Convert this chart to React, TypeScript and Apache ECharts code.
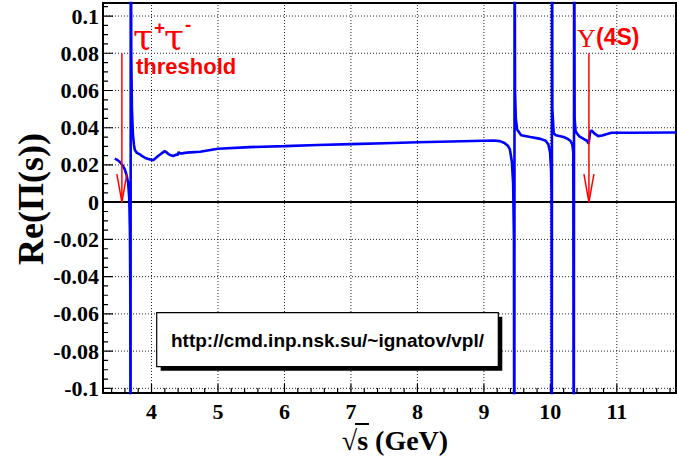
import { useEffect, useRef } from "react";
import * as echarts from "echarts";

// sqrt(s) in GeV and Re(Pi(s))
const sqrtS = [
  3.448, 3.49, 3.523, 3.56, 3.598, 3.625, 3.648, 3.665, 3.675, 3.681, 3.6845,
  3.6875, 3.695, 3.705, 3.719, 3.735, 3.749, 3.78, 3.824, 3.86, 3.899, 3.94, 3.974, 4.0, 4.024,
  4.06, 4.099, 4.15, 4.2, 4.225, 4.25, 4.29, 4.325, 4.35, 4.376, 4.39, 4.41, 4.425, 4.46, 4.5,
  4.526, 4.73, 5.0, 5.478, 6.0, 6.5, 7.0, 7.5, 8.0, 8.5, 9.0, 9.15, 9.24, 9.31, 9.36, 9.39,
  9.42, 9.44, 9.452, 9.458,
  9.462, 9.468, 9.48, 9.5, 9.56, 9.7, 9.85, 9.93, 9.97, 9.995, 10.01, 10.018, 10.021,
  10.025, 10.03, 10.05, 10.08, 10.2, 10.26, 10.3, 10.33, 10.345, 10.352,
  10.358, 10.365, 10.38, 10.43, 10.5, 10.55, 10.575, 10.585, 10.6, 10.62, 10.66, 10.72,
  10.78, 10.84, 10.92, 11.2, 11.89,
];
const rePi = [
  0.0234, 0.0226, 0.0216, 0.02, 0.0176, 0.0145, 0.0105, 0.002, -0.015, -0.05, -0.2,
  0.2, 0.08, 0.05, 0.037, 0.031, 0.028, 0.0265, 0.0257, 0.0247, 0.0239, 0.0233, 0.023, 0.0228, 0.0225,
  0.0236, 0.0248, 0.0262, 0.0274, 0.0268, 0.026, 0.0252, 0.0248, 0.0252, 0.0257, 0.0252, 0.027, 0.0262, 0.0262, 0.0265,
  0.0266, 0.0271, 0.0287, 0.0296, 0.0301, 0.0307, 0.0312, 0.0317, 0.0322, 0.0326, 0.033, 0.0331, 0.0328, 0.0318, 0.0303, 0.0285,
  0.022, 0.01, -0.02, -0.2,
  0.2, 0.06, 0.045, 0.039, 0.036, 0.035, 0.034, 0.033, 0.031, 0.027, 0.018, 0.005, -0.2,
  0.2, 0.05, 0.037, 0.036, 0.035, 0.034, 0.033, 0.031, 0.027, -0.2,
  0.2, 0.045, 0.038, 0.0355, 0.034, 0.033, 0.0315, 0.034, 0.038, 0.0385, 0.037, 0.0355,
  0.0358, 0.0365, 0.0373, 0.0373, 0.0374,
];

// axis ranges and ticks
const xMin = 3.27;
const xMax = 11.89;
const yMin = -0.1025;
const yMax = 0.107;
const xMajorTicks = [4, 5, 6, 7, 8, 9, 10, 11];
const yMajorTicks = [-0.1, -0.08, -0.06, -0.04, -0.02, 0, 0.02, 0.04, 0.06, 0.08, 0.1];
const xMinorTicks: number[] = [];
for (let k = 17; k <= 59; k++) if (k % 5 !== 0) xMinorTicks.push(+(k * 0.2).toFixed(2));
const yMinorTicks: number[] = [];
for (let k = -20; k <= 21; k++) if (k % 4 !== 0) yMinorTicks.push(+(k * 0.005).toFixed(3));

// annotation arrows: position (GeV), from value, to value
const arrowX = [3.554, 10.58];
const arrowFrom = [0.08, 0.08];
const arrowTo = [0, 0];

const RED = "#ff0000";
const SERIF = "Liberation Serif";
const SANS = "Liberation Sans";

// tick lengths expressed in axis units (grid is 573px x 390px)
const xTickMajor = 0.0048; // in y units, ~9px
const xTickMinor = 0.0027; // ~5px
const yTickMajor = 0.15; // in x units, ~10px
const yTickMinor = 0.075; // ~5px

export default function App() {
  const ref = useRef<HTMLDivElement>(null);
  useEffect(() => {
    if (!ref.current) return;
    const chart = echarts.init(ref.current, null, { renderer: "svg" });
    const labelStyle = {
      fontFamily: SERIF,
      fontWeight: "bold" as const,
      fontSize: 22,
      color: "#000",
    };
    // segments separated by empty items
    const gridSegs: any[] = [];
    xMajorTicks.forEach((v) => gridSegs.push([v, yMin], [v, yMax], null));
    yMajorTicks.filter((v) => v !== 0).forEach((v) => gridSegs.push([xMin, v], [xMax, v], null));
    const tickSegs: any[] = [];
    xMajorTicks.forEach((v) => tickSegs.push([v, yMin], [v, yMin + xTickMajor], null));
    xMinorTicks.forEach((v) => tickSegs.push([v, yMin], [v, yMin + xTickMinor], null));
    yMajorTicks.forEach((v) => tickSegs.push([xMin, v], [xMin + yTickMajor, v], null));
    yMinorTicks.forEach((v) => tickSegs.push([xMin, v], [xMin + yTickMinor, v], null));
    chart.setOption({
      animation: false,
      backgroundColor: "#fff",
      grid: {
        left: 103,
        top: 3,
        right: 1,
        bottom: 66,
        show: false,
        containLabel: false,
        outerBoundsMode: "none",
      },
      xAxis: {
        type: "value",
        min: xMin,
        max: xMax,
        position: "bottom",
        axisLine: { show: false },
        axisTick: { show: false },
        splitLine: { show: false },
        axisLabel: {
          ...labelStyle,
          customValues: xMajorTicks,
          margin: 7,
          formatter: (v: number) => String(v),
        },
      },
      yAxis: {
        type: "value",
        min: yMin,
        max: yMax,
        position: "left",
        axisLine: { show: false },
        axisTick: { show: false },
        splitLine: { show: false },
        axisLabel: {
          ...labelStyle,
          customValues: yMajorTicks,
          margin: 4,
          formatter: (v: number) => String(Math.round(v * 100) / 100),
        },
      },
      series: [
        {
          // dotted grid
          type: "line",
          data: gridSegs,
          z: 3,
          silent: true,
          showSymbol: false,
          symbol: "none",
          connectNulls: false,
          clip: false,
          lineStyle: { color: "#222", width: 1, type: [1, 2] },
        },
        {
          // inward ticks
          type: "line",
          data: tickSegs,
          z: 4,
          silent: true,
          showSymbol: false,
          symbol: "none",
          connectNulls: false,
          clip: false,
          lineStyle: { color: "#000", width: 1.2, type: "solid" },
        },
        {
          // plot frame
          type: "custom",
          z: 5,
          silent: true,
          clip: false,
          data: [[xMajorTicks[0], 0]],
          renderItem: (params: any) => {
            const cs = params.coordSys;
            return {
              type: "rect",
              shape: { x: cs.x, y: cs.y, width: cs.width, height: cs.height },
              style: { stroke: "#000", lineWidth: 2, fill: null },
            };
          },
        },
        {
          type: "line",
          data: [],
          z: 6,
          silent: true,
          markLine: {
            silent: true,
            symbol: "none",
            label: { show: false },
            lineStyle: { color: "#000", width: 2, type: "solid" },
            data: [{ yAxis: 0 }],
          },
        },
        {
          type: "line",
          data: sqrtS.map((x, i) => [x, rePi[i]]),
          showSymbol: false,
          symbol: "none",
          clip: true,
          z: 7,
          lineStyle: { color: "#0000ff", width: 2.6 },
        },
        {
          type: "custom",
          z: 8,
          silent: true,
          clip: false,
          data: arrowX.map((x, i) => [x, arrowFrom[i], arrowTo[i]]),
          renderItem: (_params: any, api: any) => {
            const top = api.coord([api.value(0), api.value(1)]);
            const bot = api.coord([api.value(0), api.value(2)]);
            return {
              type: "group",
              children: [
                {
                  type: "line",
                  shape: { x1: top[0], y1: top[1], x2: bot[0], y2: bot[1] },
                  style: { stroke: RED, lineWidth: 1.5 },
                },
                {
                  type: "polyline",
                  shape: {
                    points: [
                      [bot[0] - 5, bot[1] - 28],
                      [bot[0], bot[1]],
                      [bot[0] + 5, bot[1] - 28],
                    ],
                  },
                  style: { stroke: RED, lineWidth: 1.5, fill: "none" },
                },
              ],
            };
          },
        },
      ],
      graphic: [
        // tau+ tau- threshold
        { type: "text", x: 133, y: 36, z: 10, style: { text: "τ", font: `36px 'DejaVu Serif'`, fill: RED, verticalAlign: "middle" } },
        { type: "text", x: 154, y: 27, z: 10, style: { text: "+", font: `bold 19px '${SANS}'`, fill: RED, verticalAlign: "middle" } },
        { type: "text", x: 164, y: 36, z: 10, style: { text: "τ", font: `36px 'DejaVu Serif'`, fill: RED, verticalAlign: "middle" } },
        { type: "text", x: 185, y: 24, z: 10, style: { text: "-", font: `bold 19px '${SANS}'`, fill: RED, verticalAlign: "middle" } },
        { type: "text", x: 136, y: 66.5, z: 10, style: { text: "threshold", font: `bold 22px '${SANS}'`, fill: RED, verticalAlign: "middle" } },
        // Upsilon(4S)
        { type: "text", x: 577, y: 38, z: 10, style: { text: "Υ", font: `26px '${SERIF}'`, fill: RED, verticalAlign: "middle" } },
        { type: "text", x: 596, y: 37, z: 10, style: { text: "(4S)", font: `bold 23px '${SANS}'`, fill: RED, verticalAlign: "middle" } },
        // URL box
        { type: "rect", z: 10, shape: { x: 160.7, y: 316.7, width: 341.6, height: 54 }, style: { fill: "#000" } },
        { type: "rect", z: 11, shape: { x: 156.7, y: 312.7, width: 341.6, height: 54 }, style: { fill: "#fff", stroke: "#000", lineWidth: 1.2 } },
        { type: "text", z: 12, x: 327.5, y: 340, style: { text: "http://cmd.inp.nsk.su/~ignatov/vpl/", font: `bold 19px '${SANS}'`, fill: "#000", align: "center", verticalAlign: "middle" } },
        // axis titles
        { type: "text", z: 10, x: 31, y: 199, rotation: Math.PI / 2, style: { text: "Re(Π(s))", font: `bold 36px '${SERIF}'`, fill: "#000", align: "center", verticalAlign: "middle" } },
        { type: "text", z: 10, x: 395, y: 440, style: { text: "√s (GeV)", font: `bold 28px '${SERIF}'`, fill: "#000", align: "center", verticalAlign: "middle" } },
        { type: "line", z: 10, shape: { x1: 355, y1: 424, x2: 369, y2: 424 }, style: { stroke: "#000", lineWidth: 2 } },
      ],
    });
    return () => chart.dispose();
  }, []);
  return (
    <div
      ref={ref}
      style={{ position: "fixed", left: 0, top: 0, width: 677, height: 459 }}
    />
  );
}
